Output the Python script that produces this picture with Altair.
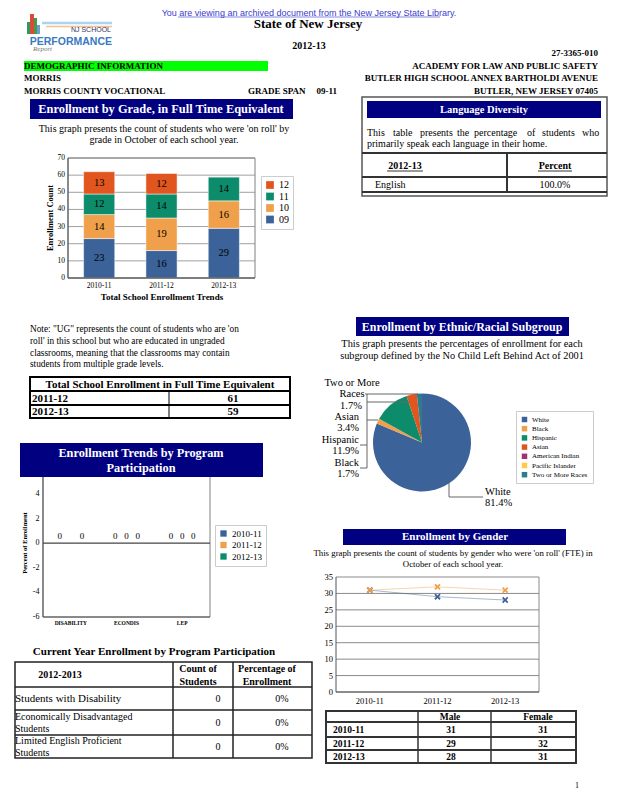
import altair as alt
import pandas as pd

# ---------------- data ----------------
years = ["2010-11", "2011-12", "2012-13"]
grades = ["09", "10", "11", "12"]
grade_09 = [23, 16, 29]
grade_10 = [14, 19, 16]
grade_11 = [12, 14, 14]
grade_12 = [13, 12, 0]
grade_ticks = [0, 10, 20, 30, 40, 50, 60, 70]

total_years = ["2011-12", "2012-13"]
total_fte = [61, 59]

programs = ["DISABILITY", "ECONDIS", "LEP"]
program_2010 = [0, 0, 0]
program_2011 = [None, 0, 0]
program_2012 = [0, 0, 0]
program_ticks = [-6, -4, -2, 0, 2, 4]

current_labels = [["Students with Disability"],
                  ["Economically Disadvantaged", "Students"],
                  ["Limited English Proficient", "Students"]]
current_counts = [0, 0, 0]
current_pcts = [0, 0, 0]

languages = ["English"]
language_pcts = [100.0]

ethnic_groups = ["White", "Black", "Hispanic", "Asian", "American Indian",
                 "Pacific Islander", "Two or More Races"]
ethnic_pcts = [81.4, 1.7, 11.9, 3.4, 0.0, 0.0, 1.7]

gender_male = [31, 29, 28]
gender_female = [31, 32, 31]
gender_ticks = [0, 5, 10, 15, 20, 25, 30, 35]

# ---------------- helpers ----------------
W, H = 602, 784
O = 8
SERIF = "Liberation Serif"
SANS = "Liberation Sans"
NAVY = "#000080"


def p(v):
    return v - O


layers = []


def text(s, x, y, size=10, weight="normal", align="left", color="black",
         font=SERIF, baseline="middle", angle=None, style=None):
    kw = dict(fontSize=size, fontWeight=weight, align=align, color=color,
              font=font, baseline=baseline)
    if angle is not None:
        kw["angle"] = angle
    if style:
        kw["fontStyle"] = style
    layers.append(alt.Chart().mark_text(**kw).encode(
        x=alt.value(p(x)), y=alt.value(p(y)), text=alt.value(s)))


def box(x1, y1, x2, y2, fill=None, stroke=None, sw=1):
    kw = {}
    if fill:
        kw["fill"] = fill
    else:
        kw["fillOpacity"] = 0
    if stroke:
        kw["stroke"] = stroke
        kw["strokeWidth"] = sw
    layers.append(alt.Chart().mark_rect(**kw).encode(
        x=alt.value(p(x1)), x2=alt.value(p(x2)),
        y=alt.value(p(y1)), y2=alt.value(p(y2))))


def hline(x1, x2, y, color="black", sw=1):
    layers.append(alt.Chart().mark_rule(color=color, strokeWidth=sw).encode(
        x=alt.value(p(x1)), x2=alt.value(p(x2)), y=alt.value(p(y))))


def vline(x, y1, y2, color="black", sw=1):
    layers.append(alt.Chart().mark_rule(color=color, strokeWidth=sw).encode(
        x=alt.value(p(x)), y=alt.value(p(y1)), y2=alt.value(p(y2))))


def y_labels(ticks, scale, x, size=8):
    return alt.Chart(pd.DataFrame({"t": ticks})).transform_calculate(
        lab="'' + datum.t").mark_text(
        align="right", baseline="middle", font=SERIF, fontSize=size,
        color="black").encode(
        y=alt.Y("t:Q", scale=scale, axis=None),
        x=alt.value(p(x)), text=alt.Text("lab:N"))


def x_labels(cats, scale, y, size=8, weight="normal"):
    return alt.Chart(pd.DataFrame({"c": cats})).mark_text(
        align="center", baseline="middle", font=SERIF, fontSize=size,
        fontWeight=weight, color="black").encode(
        x=alt.X("c:N", scale=scale, axis=None),
        y=alt.value(p(y)), text=alt.Text("c:N"))


# ---------------- header ----------------
text("You are viewing an archived document from the New Jersey State Library.",
     309, 15.5, size=9, align="center", color="#3b3bd0", font=SANS,
     baseline="alphabetic")
hline(178, 440, 17, color="#3b3bd0", sw=0.6)
# logo
hline(42, 112, 23, color="#a9d3ee", sw=2.5)
hline(46, 112, 26.5, color="#f2c38e", sw=1.5)
box(27, 22, 30, 34, fill="#2f9a5a")
box(30, 14, 34, 34, fill="#d84b3a")
box(34, 18, 37, 34, fill="#4a9a4a")
box(37, 25, 40, 34, fill="#6aa0d0")
text("NJ SCHOOL", 111, 30, size=7, align="right", color="#333366", font=SANS)
text("PERFORMANCE", 112, 41.5, size=10.5, weight="bold", align="right",
     color="#3a78c2", font=SANS)
text("Report", 33, 49, size=7, color="#777777", style="italic")

text("State of New Jersey", 308, 24, size=13, weight="bold", align="center")
text("2012-13", 309, 46, size=10, weight="bold", align="center")
text("27-3365-010", 598, 53, size=9, weight="bold", align="right")
box(24, 61, 268, 71, fill="#00ff00")
text("DEMOGRAPHIC INFORMATION", 24, 66, size=9, weight="bold")
text("ACADEMY FOR LAW AND PUBLIC SAFETY", 598, 66, size=9, weight="bold", align="right")
text("MORRIS", 24, 78, size=9, weight="bold")
text("BUTLER HIGH SCHOOL ANNEX BARTHOLDI AVENUE", 598, 78, size=9, weight="bold", align="right")
text("MORRIS COUNTY VOCATIONAL", 24, 91, size=9, weight="bold")
text("GRADE SPAN", 248, 91, size=9, weight="bold")
text("09-11", 337, 91, size=9, weight="bold", align="right")
text("BUTLER, NEW JERSEY 07405", 598, 91, size=9, weight="bold", align="right")

# ---------------- enrollment by grade ----------------
box(30, 99, 293, 119, fill=NAVY)
text("Enrollment by Grade, in Full Time Equivalent", 161, 109, size=12.4,
     weight="bold", align="center", color="white")
text("This graph presents the count of students who were 'on roll' by", 164, 129,
     size=10, align="center")
text("grade in October of each school year.", 164, 140, size=10, align="center")

rows = []
for i, yr in enumerate(years):
    for k, (g, vals) in enumerate(zip(grades, [grade_09, grade_10, grade_11, grade_12])):
        rows.append({"year": yr, "grade": g, "count": vals[i], "k": k})
df_bar = pd.DataFrame(rows)

bar_x = alt.Scale(domain=years, range=[p(68), p(255)], paddingInner=0.5, paddingOuter=0.25)
bar_y = alt.Scale(domain=[0, 70], range=[p(278), p(158)], nice=False, zero=False)
bar_color = alt.Scale(domain=["12", "11", "10", "09"],
                      range=["#e0561e", "#0c8c6a", "#f0a04b", "#3b6299"])

bar_grid = alt.Chart(pd.DataFrame({"t": grade_ticks})).mark_rule(
    color="#a0a0a0", strokeWidth=1).encode(
    y=alt.Y("t:Q", scale=bar_y, axis=None),
    x=alt.value(p(68)), x2=alt.value(p(255)))

bar_base = alt.Chart(df_bar).transform_stack(
    stack="count", groupby=["year"], as_=["y0", "y1"],
    sort=[alt.SortField("k", order="ascending")]
).transform_calculate(ym="(datum.y0 + datum.y1) / 2")

bars = bar_base.mark_bar(stroke="white", strokeWidth=0.5).encode(
    x=alt.X("year:N", scale=bar_x, axis=None),
    y=alt.Y("y0:Q", scale=bar_y, axis=None),
    y2="y1:Q",
    color=alt.Color("grade:N", scale=bar_color, legend=alt.Legend(
        orient="none", legendX=p(261), legendY=p(176), title=None,
        symbolType="square", symbolSize=60, symbolStrokeWidth=0,
        labelFont=SERIF, labelFontSize=10, labelColor="black",
        padding=4, rowPadding=1.5, strokeColor="#cccccc", fillColor="white")))

bar_text = bar_base.transform_filter("datum.count > 0").mark_text(
    font=SERIF, fontSize=10.5, color="black").encode(
    x=alt.X("year:N", scale=bar_x, axis=None),
    y=alt.Y("ym:Q", scale=bar_y, axis=None),
    text=alt.Text("count:Q"))

layers.append(alt.layer(bar_grid, bars, bar_text,
                        y_labels(grade_ticks, bar_y, 65, size=7.5),
                        x_labels(years, bar_x, 285.5, size=7.5)))
box(68, 158, 255, 278, stroke="#808080", sw=1)
vline(68, 158, 278, color="#555555")
hline(68, 255, 278, color="#555555")
text("Enrollment Count", 50, 218, size=8.5, weight="bold", align="center", angle=270)
text("Total School Enrollment Trends", 162, 297, size=9, weight="bold", align="center")

# note
for i, line in enumerate([
        "Note: \"UG\" represents the count of students who are 'on",
        "roll' in this school but who are educated in ungraded",
        "classrooms, meaning that the classrooms may contain",
        "students from multiple grade levels."]):
    text(line, 30, 329 + i * 11.8, size=9.3)

# total enrollment table
box(30, 377, 290, 418, fill="white", stroke="black", sw=2)
hline(30, 290, 391, sw=2)
hline(30, 290, 405, sw=2)
vline(169, 391, 418, sw=1)
text("Total School Enrollment in Full Time Equivalent", 160, 384.5, size=11,
     weight="bold", align="center")
for i, (yr, v) in enumerate(zip(total_years, total_fte)):
    text(yr, 32, 398.5 + i * 13.5, size=11, weight="bold")
    text(str(v), 233, 398.5 + i * 13.5, size=11, weight="bold", align="center")

# ---------------- program participation ----------------
prog_rows = []
for yr, vals in zip(years, [program_2010, program_2011, program_2012]):
    for pr, v in zip(programs, vals):
        prog_rows.append({"program": pr, "year": yr, "pct": v})
df_prog = pd.DataFrame(prog_rows)

prog_x = alt.Scale(domain=programs, range=[p(43), p(210)], paddingInner=0.4, paddingOuter=0.2)
prog_xo = alt.Scale(domain=years, range=[0, 33.4], paddingInner=0, paddingOuter=0)
prog_y = alt.Scale(domain=[-6, 6], range=[p(617), p(469.4)], nice=False, zero=False)
prog_color = alt.Scale(domain=years, range=["#3b6299", "#f0a04b", "#0c8c6a"])

prog_base = alt.Chart(df_prog).transform_filter("isValid(datum.pct)")
prog_bars = prog_base.mark_bar().encode(
    x=alt.X("program:N", scale=prog_x, axis=None),
    xOffset=alt.XOffset("year:N", scale=prog_xo),
    y=alt.Y("pct:Q", scale=prog_y, axis=None),
    y2=alt.datum(0),
    color=alt.Color("year:N", scale=prog_color, legend=alt.Legend(
        orient="none", legendX=p(215), legendY=p(525), title=None,
        symbolType="square", symbolSize=40, symbolStrokeWidth=0,
        labelFont=SERIF, labelFontSize=9, labelColor="black",
        padding=4, rowPadding=1.5, strokeColor="#cccccc", fillColor="white")))
prog_text = prog_base.mark_text(font=SERIF, fontSize=9, dy=-7, color="black").encode(
    x=alt.X("program:N", scale=prog_x, axis=None),
    xOffset=alt.XOffset("year:N", scale=prog_xo),
    y=alt.Y("pct:Q", scale=prog_y, axis=None),
    text=alt.Text("pct:Q", format="d"))
prog_zero = alt.Chart(pd.DataFrame({"z": [0]})).mark_rule(
    color="#444444", strokeWidth=1.2).encode(
    y=alt.Y("z:Q", scale=prog_y, axis=None),
    x=alt.value(p(43)), x2=alt.value(p(210)))

box(43, 469, 210, 617, stroke="#808080", sw=1)
vline(43, 469, 617, color="#555555")
hline(43, 210, 617, color="#555555")
layers.append(alt.layer(prog_zero, prog_bars, prog_text,
                        y_labels(program_ticks, prog_y, 39.5, size=8),
                        x_labels(programs, prog_x, 622.5, size=5.5, weight="bold")))
box(20, 443, 263, 477, fill=NAVY)
text("Enrollment Trends by Program", 141, 453, size=12.3, weight="bold",
     align="center", color="white")
text("Participation", 141, 468, size=12.3, weight="bold", align="center", color="white")
text("Percent of Enrollment", 25, 543, size=6.5, weight="bold", align="center", angle=270)

# current year table
text("Current Year Enrollment by Program Participation", 154, 652, size=11,
     weight="bold", align="center")
box(15, 662, 312, 758, fill="white", stroke="#222222", sw=1.5)
hline(15, 312, 687, color="#222222", sw=1.5)
hline(15, 312, 710, color="#222222", sw=1.5)
hline(15, 312, 735, color="#222222", sw=1.5)
vline(173, 662, 758, color="#222222", sw=1.5)
vline(233, 662, 758, color="#222222", sw=1.5)
text("2012-2013", 60, 675, size=10, weight="bold", align="center")
text("Count of", 198, 669, size=10, weight="bold", align="center")
text("Students", 198, 682, size=10, weight="bold", align="center")
text("Percentage of", 267, 669, size=10, weight="bold", align="center")
text("Enrollment", 267, 682, size=10, weight="bold", align="center")
row_mid = [699, 723, 747]
for i, (labs, c, pc) in enumerate(zip(current_labels, current_counts, current_pcts)):
    if len(labs) == 1:
        text(labs[0], 15, row_mid[i], size=11)
    else:
        text(labs[0], 15, row_mid[i] - 6, size=10)
        text(labs[1], 15, row_mid[i] + 6, size=10)
    text(str(c), 218, row_mid[i], size=10, align="center")
    text(f"{pc}%", 282, row_mid[i], size=10, align="center")

# ---------------- language diversity ----------------
box(362, 97, 607, 196, fill="white", stroke="#555555", sw=1.5)
box(367, 101, 601, 118, fill=NAVY)
text("Language Diversity", 484, 109.5, size=10.5, weight="bold", align="center", color="white")
for w, x in [("This", 367), ("table", 393), ("presents", 420), ("the", 457),
             ("percentage", 474), ("of", 527), ("students", 542), ("who", 582)]:
    text(w, x, 133, size=10)
text("primarily speak each language in their home.", 367, 144, size=10)
hline(362, 607, 153, color="#333333", sw=2)
hline(362, 607, 177, color="#333333", sw=2)
hline(362, 607, 192, color="#333333", sw=2)
vline(507, 153, 192, color="#333333", sw=2)
text("2012-13", 405, 166, size=10, weight="bold", align="center")
hline(387, 423, 171, sw=0.8)
text("Percent", 555, 166, size=10, weight="bold", align="center")
hline(538, 572, 171, sw=0.8)
for i, (lang, pct) in enumerate(zip(languages, language_pcts)):
    text(lang, 375, 184.5 + i * 15, size=10)
    text(f"{pct:.1f}%", 555, 184.5 + i * 15, size=10, align="center")

# ---------------- ethnic / racial subgroup ----------------
box(356, 317, 569, 336, fill=NAVY)
text("Enrollment by Ethnic/Racial Subgroup", 462, 327, size=12, weight="bold",
     align="center", color="white")
text("This graph presents the percentages of enrollment for each", 462, 344,
     size=10.3, align="center")
text("subgroup defined by the No Child Left Behind Act of 2001", 462, 355.5,
     size=10.3, align="center")

df_eth = pd.DataFrame({"group": ethnic_groups, "pct": ethnic_pcts,
                       "k": list(range(len(ethnic_groups)))})
eth_colors = ["#3b6299", "#f0a04b", "#0c8c6a", "#e0561e", "#a3306e", "#ffc94d", "#2d7b8c"]
pie = alt.Chart(df_eth).mark_arc(outerRadius=49).encode(
    theta=alt.Theta("pct:Q", stack=True),
    order=alt.Order("k:Q"),
    color=alt.Color("group:N", scale=alt.Scale(domain=ethnic_groups, range=eth_colors),
                    legend=alt.Legend(
                        orient="none", legendX=p(516), legendY=p(411), title=None,
                        symbolType="square", symbolSize=30, symbolStrokeWidth=0,
                        labelFont=SERIF, labelFontSize=7, labelColor="black",
                        padding=5, rowPadding=1.2, strokeColor="#cccccc",
                        fillColor="white")),
    x=alt.value(p(422)), y=alt.value(p(442.5)))
layers.append(pie)

# leader lines
LC = "#666666"
hline(365, 418, 394, color=LC)
vline(367, 394, 468, color=LC)
hline(367, 410, 402, color=LC)
hline(367, 378, 420, color=LC)
hline(360, 367, 445, color=LC)
hline(360, 367, 468, color=LC)
vline(449, 483, 497, color=LC)
hline(449, 483, 497, color=LC)

lbl = {g: f"{v:.1f}%" for g, v in zip(ethnic_groups, ethnic_pcts)}
text("Two or More", 352, 383, size=10.5, align="center")
text("Races", 352, 394, size=10.5, align="center")
text(lbl["Two or More Races"], 351, 405.5, size=10.5, align="center")
text("Asian", 359, 417, size=10.5, align="right")
text(lbl["Asian"], 359, 428, size=10.5, align="right")
text("Hispanic", 359, 439.5, size=10.5, align="right")
text(lbl["Hispanic"], 359, 451, size=10.5, align="right")
text("Black", 359, 463, size=10.5, align="right")
text(lbl["Black"], 359, 474, size=10.5, align="right")
text("White", 485, 491.5, size=10.5)
text(lbl["White"], 485, 502.5, size=10.5)

# ---------------- gender ----------------
box(343, 529, 566, 545, fill=NAVY)
text("Enrollment by Gender", 455, 537, size=11, weight="bold", align="center", color="white")
text("This graph presents the count of students by gender who were 'on roll' (FTE) in",
     453, 553, size=8.8, align="center")
text("October of each school year.", 453, 564, size=8.8, align="center")

g_rows = []
for yr, m, f in zip(years, gender_male, gender_female):
    g_rows.append({"year": yr, "gender": "Male", "count": m})
    g_rows.append({"year": yr, "gender": "Female", "count": f})
df_g = pd.DataFrame(g_rows)

gx = alt.Scale(type="point", domain=years, range=[p(336), p(539)], padding=0.5)
gy = alt.Scale(domain=[0, 35], range=[p(692), p(577)], nice=False, zero=False)
g_color = alt.Scale(domain=["Male", "Female"], range=["#3b6299", "#f0a04b"])
XPATH = ("M-1,-0.6L-0.6,-1L0,-0.4L0.6,-1L1,-0.6L0.4,0L1,0.6L0.6,1L0,0.4"
         "L-0.6,1L-1,0.6L-0.4,0Z")

g_grid = alt.Chart(pd.DataFrame({"t": gender_ticks})).mark_rule(
    color="#8a8a8a", strokeWidth=1).encode(
    y=alt.Y("t:Q", scale=gy, axis=None),
    x=alt.value(p(336)), x2=alt.value(p(539)))
g_line = alt.Chart(df_g).mark_line(strokeWidth=1, opacity=0.45).encode(
    x=alt.X("year:N", scale=gx, axis=None),
    y=alt.Y("count:Q", scale=gy, axis=None),
    color=alt.Color("gender:N", scale=g_color, legend=None))
g_pts = alt.Chart(df_g).mark_point(shape=XPATH, filled=True, size=40, opacity=1).encode(
    x=alt.X("year:N", scale=gx, axis=None),
    y=alt.Y("count:Q", scale=gy, axis=None),
    color=alt.Color("gender:N", scale=g_color, legend=alt.Legend(
        orient="none", legendX=p(543), legendY=p(622), title=None,
        symbolType=XPATH, symbolSize=35, symbolStrokeWidth=0,
        labelFont=SERIF, labelFontSize=9, labelColor="black",
        padding=3, rowPadding=1.5, strokeColor="#cccccc", fillColor="white")))
layers.append(alt.layer(g_grid, g_line, g_pts,
                        y_labels(gender_ticks, gy, 333, size=8.5),
                        x_labels(years, gx, 700.5, size=8.5)))
vline(336, 577, 692, color="#555555")
vline(539, 577, 692, color="#8a8a8a")
hline(336, 539, 692, color="#555555")

# gender table
box(326, 711, 576, 763, fill="white", stroke="#333333", sw=2)
hline(326, 576, 722, color="#333333", sw=2)
hline(326, 576, 737, color="#333333", sw=2)
hline(326, 576, 750, color="#333333", sw=2)
vline(418, 711, 763, color="#333333", sw=1.5)
vline(491, 711, 763, color="#333333", sw=1.5)
text("Male", 450, 716.5, size=9.5, weight="bold", align="center")
text("Female", 538, 716.5, size=9.5, weight="bold", align="center")
for i, (yr, m, f) in enumerate(zip(years, gender_male, gender_female)):
    yy = [730, 743.5, 756.5][i]
    text(yr, 333, yy, size=9.5, weight="bold")
    text(str(m), 451, yy, size=9.5, weight="bold", align="center")
    text(str(f), 543, yy, size=9.5, weight="bold", align="center")

text("1", 577, 786, size=8, align="center")

# ---------------- assemble ----------------
chart = alt.layer(*layers, data=alt.Data(values=[{"d": 0}])).resolve_scale(
    x="independent", y="independent", color="independent",
    theta="independent", xOffset="independent"
).resolve_legend(
    color="independent"
).properties(
    width=W, height=H, padding=0, background="white",
    autosize=alt.AutoSizeParams(type="none")
).configure_view(strokeWidth=0)

chart.save("out.html", embed_options={"renderer": "svg", "actions": False})
